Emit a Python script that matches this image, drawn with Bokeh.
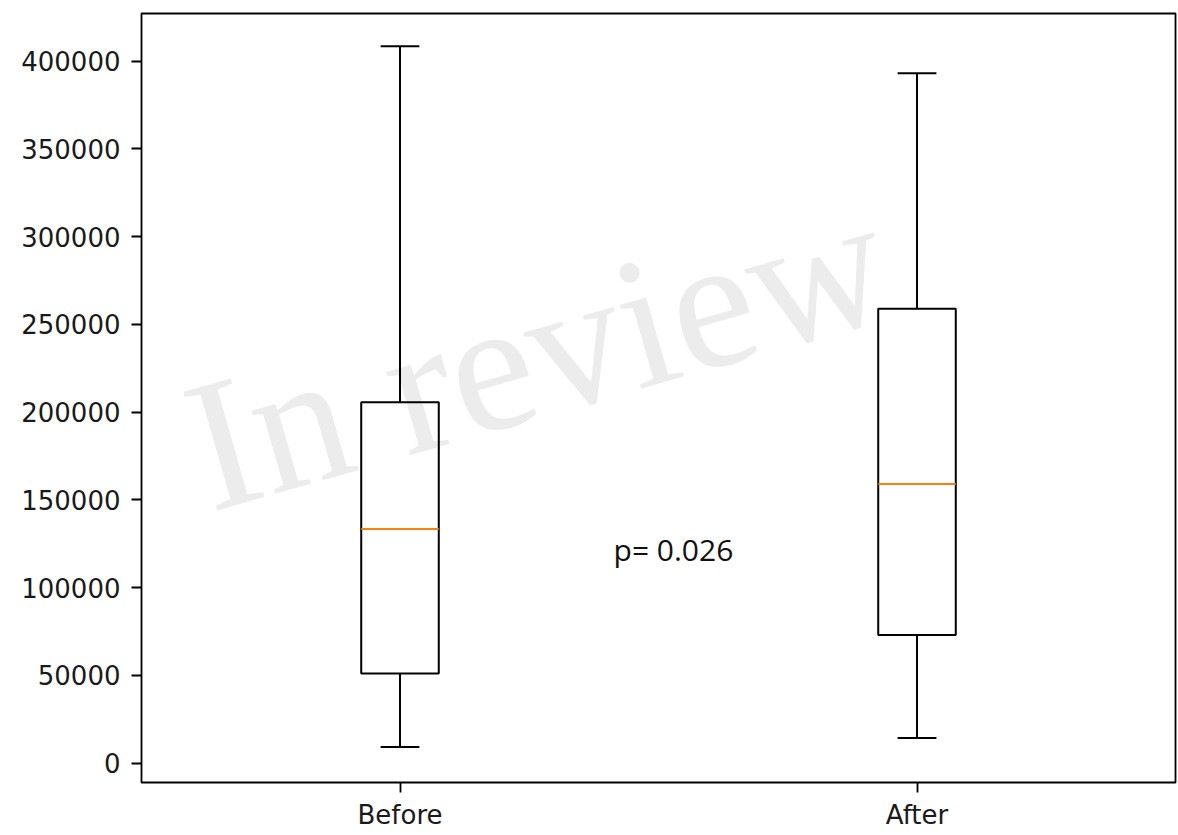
from bokeh.plotting import figure
from bokeh.models import Range1d, FixedTicker, Label, ColumnDataSource
from bokeh.embed import file_html
from bokeh.resources import INLINE

# ---- data ----
groups = ["Before", "After"]
positions = [1, 2]
whisker_low = [9300, 14300]
q1 = [51100, 73000]
median = [133500, 159100]
q3 = [205700, 258900]
whisker_high = [408500, 393200]
y_ticks = [0, 50000, 100000, 150000, 200000, 250000, 300000, 350000, 400000]
p_text = "p= 0.026"
watermark = "In review"

box_w = 0.15
cap_w = 0.075

src = ColumnDataSource(dict(
    x=positions,
    left=[p - box_w / 2 for p in positions],
    right=[p + box_w / 2 for p in positions],
    cl=[p - cap_w / 2 for p in positions],
    cr=[p + cap_w / 2 for p in positions],
    lo=whisker_low, q1=q1, med=median, q3=q3, hi=whisker_high,
))

p = figure(width=1178, height=835, output_backend="svg", toolbar_location=None,
           x_range=Range1d(0.5, 2.5), y_range=Range1d(-11000, 427200),
           min_border_left=141, min_border_right=3, min_border_top=13, min_border_bottom=53)
p.background_fill_color = "white"
p.border_fill_color = "white"
p.grid.visible = False
p.outline_line_color = "black"
p.outline_line_width = 1.8

# watermark (underneath)
wm = Label(x=1.265, y=234000, text=watermark, angle=16, angle_units="deg",
           text_align="center", text_baseline="middle",
           text_font="Liberation Serif", text_font_size="188px",
           text_color="#ececec", level="underlay")
p.add_layout(wm)

# whiskers
p.segment(x0="x", y0="q3", x1="x", y1="hi", source=src, line_color="black", line_width=2)
p.segment(x0="x", y0="lo", x1="x", y1="q1", source=src, line_color="black", line_width=2)
# caps
p.segment(x0="cl", y0="hi", x1="cr", y1="hi", source=src, line_color="black", line_width=2)
p.segment(x0="cl", y0="lo", x1="cr", y1="lo", source=src, line_color="black", line_width=2)
# boxes
p.quad(left="left", right="right", bottom="q1", top="q3", source=src,
       fill_color=None, line_color="black", line_width=2)
# medians
p.segment(x0="left", y0="med", x1="right", y1="med", source=src,
          line_color="#ff7f0e", line_width=2)

# p value annotation
p.add_layout(Label(x=1.413, y=121500, text=p_text, text_align="left", text_baseline="middle",
                   text_font="Open Sans", text_font_size="30px", text_color="#111111"))

# axes
p.xaxis.ticker = FixedTicker(ticks=positions)
p.xaxis.major_label_overrides = {pos: g for pos, g in zip(positions, groups)}
p.yaxis.ticker = FixedTicker(ticks=y_ticks)
p.yaxis.major_label_overrides = {t: str(t) for t in y_ticks}
for ax in (p.xaxis[0], p.yaxis[0]):
    ax.axis_line_color = None
    ax.major_tick_line_color = "black"
    ax.major_tick_line_width = 1.8
    ax.major_tick_out = 10
    ax.major_tick_in = 0
    ax.minor_tick_line_color = None
    ax.major_label_text_font = "DejaVu Sans"
    ax.major_label_text_font_size = "26px"
    ax.major_label_text_color = "#1a1a1a"
p.yaxis.major_label_standoff = 11
p.xaxis.major_label_standoff = 7

open("out.html", "w").write(file_html(p, INLINE))
